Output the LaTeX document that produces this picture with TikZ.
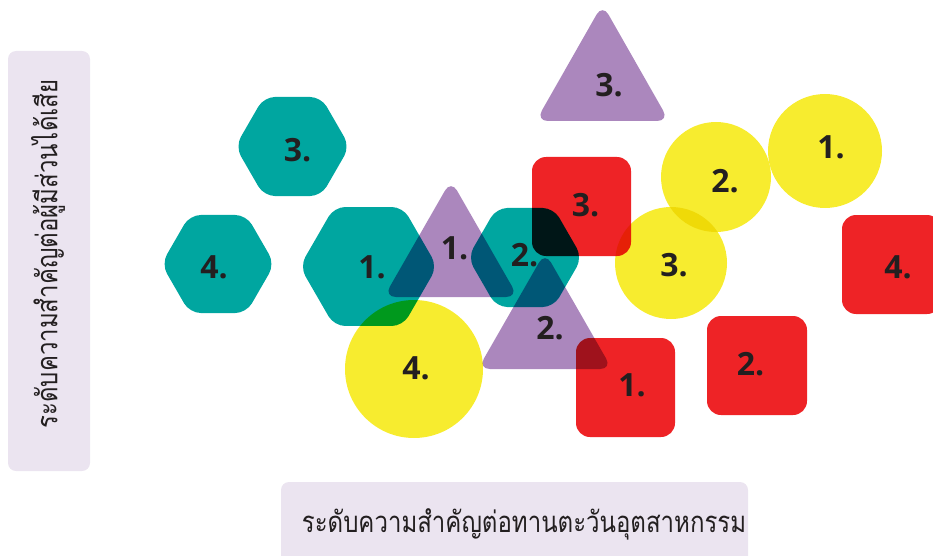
\documentclass[tikz,border=0pt]{standalone}
\usepackage{fontspec}
\newfontfamily\thaifont[Script=Thai]{Loma}
\newfontfamily\labfont{Open Sans}
\definecolor{cteal}{HTML}{00A6A0}
\definecolor{cpurple}{HTML}{AB87BD}
\definecolor{cyellow}{HTML}{F7EC2F}
\definecolor{cred}{HTML}{EE2326}
\definecolor{cbox}{HTML}{EBE4F0}
\definecolor{ctext}{HTML}{231F20}
\newcommand\hexat[3]{\fill[hexfill] (#1,#2) +(0:#3) -- +(60:#3) -- +(120:#3) -- +(180:#3) -- +(240:#3) -- +(300:#3) -- cycle;}
\newcommand\tallthai[1]{\scalebox{1}[1.22]{#1}}
\tikzset{
  hexfill/.style={fill=cteal, rounded corners=11},
  trifill/.style={fill=cpurple, rounded corners=12},
  circfill/.style={fill=cyellow},
  sqfill/.style={fill=cred, rounded corners=14},
  lab/.style={text=ctext, font=\labfont\bfseries\fontsize{32}{36}\selectfont, inner sep=0pt},
  axisbox/.style={fill=cbox, rounded corners=8},
  axistext/.style={text=ctext, font=\thaifont\fontsize{24}{28}\selectfont, inner sep=0pt}
}
\begin{document}
\begin{tikzpicture}[x=1pt,y=-1pt]
\useasboundingbox (0,0) rectangle (933,556);
\clip (0,0) rectangle (933,556);
% axis boxes
\fill[axisbox] (8,51) rectangle (90,471);
\fill[axisbox] (281,482) rectangle (748,575);
\node[axistext, rotate=90] (ytext) at (48,254) {\tallthai{ระดับความสำคัญต่อผู้มีส่วนได้เสีย}};
\node[axistext] (xtext) at (524,524) {\tallthai{ระดับความสำคัญต่อทานตะวันอุตสาหกรรม}};
% shapes
\begin{scope}[blend group=multiply]
  \hexat{292.5}{146.5}{57.2}
  \hexat{218}{264}{56.6}
  \hexat{368.5}{266.5}{68.7}
  \hexat{525}{257.5}{57.2}
  \fill[trifill] (535.9,121) -- (669.1,121) -- (602.5,4.1) -- cycle;
  \fill[trifill] (383.9,297) -- (518.1,297) -- (451,180.1) -- cycle;
  \fill[trifill] (477.9,369) -- (612.1,369) -- (545,252.1) -- cycle;
  \fill[circfill] (825,151) circle (57);
  \fill[circfill] (716,177) circle (55);
  \fill[circfill] (671,263) circle (56);
  \fill[circfill] (414,369) circle (69);
  \fill[sqfill] (532,157) rectangle (631,256);
  \fill[sqfill] (576,338) rectangle (675,437);
  \fill[sqfill] (707,316) rectangle (807,415);
  \fill[sqfill] (842,215) rectangle (941,314);
\end{scope}
% labels
\node[lab] (h3) at (297.5,150) {3.};
\node[lab] (h4) at (214,267) {4.};
\node[lab] (h1) at (372,267) {1.};
\node[lab] (h2) at (524.5,255) {2.};
\node[lab] (t3) at (609,85) {3.};
\node[lab] (t1) at (454.5,248) {1.};
\node[lab] (t2) at (550,328) {2.};
\node[lab] (c1) at (831,147.5) {1.};
\node[lab] (c2) at (725,181) {2.};
\node[lab] (c3) at (674,265) {3.};
\node[lab] (c4) at (416,368) {4.};
\node[lab] (s3) at (585.5,205.5) {3.};
\node[lab] (s1) at (632,385) {1.};
\node[lab] (s2) at (750.5,364.5) {2.};
\node[lab] (s4) at (898,267) {4.};
\end{tikzpicture}
\end{document}
